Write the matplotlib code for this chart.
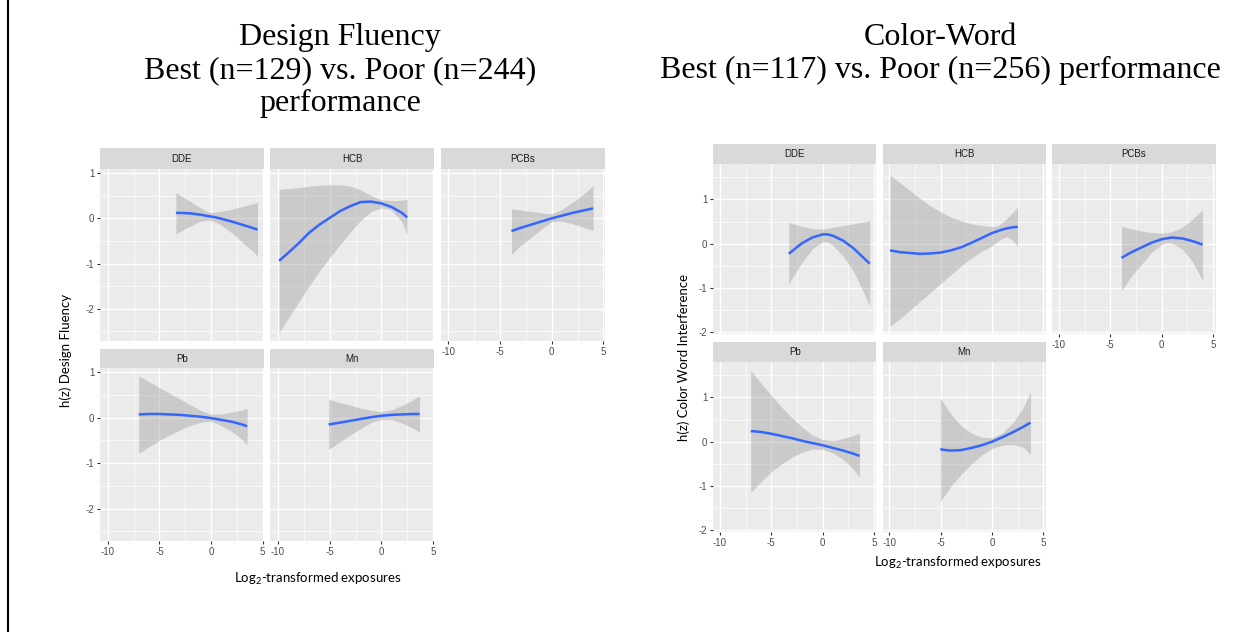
"""
Two BKMR-style facet panels: Design Fluency and Color-Word, best vs poor performance.
"""
import matplotlib
matplotlib.use("Agg")
import matplotlib.pyplot as plt
from matplotlib.ticker import MultipleLocator

W, H = 1244, 632

# ---------------- Design Fluency (left) ----------------
DF_DDE_X = [-3.4, -3, -2, -1, -0.3, 0, 0.5, 1, 2, 3, 4, 4.5]
DF_DDE_FIT = [0.12, 0.12, 0.11, 0.08, 0.05, 0.04, 0.02, -0.01, -0.07, -0.14, -0.21, -0.25]
DF_DDE_HI = [0.57, 0.51, 0.37, 0.23, 0.14, 0.13, 0.14, 0.16, 0.20, 0.26, 0.32, 0.35]
DF_DDE_LO = [-0.35, -0.29, -0.17, -0.06, -0.04, -0.05, -0.09, -0.15, -0.32, -0.52, -0.72, -0.83]

DF_HCB_X = [-9.9, -9, -8, -7, -6, -5, -4, -3, -2, -1, 0, 1, 2, 2.5]
DF_HCB_FIT = [-0.94, -0.76, -0.55, -0.32, -0.14, 0.01, 0.16, 0.27, 0.36, 0.37, 0.33, 0.25, 0.12, 0.02]
DF_HCB_HI = [0.64, 0.66, 0.68, 0.71, 0.73, 0.74, 0.74, 0.71, 0.63, 0.50, 0.41, 0.39, 0.40, 0.42]
DF_HCB_LO = [-2.52, -2.20, -1.85, -1.50, -1.17, -0.87, -0.58, -0.30, -0.05, 0.15, 0.23, 0.19, -0.08, -0.37]

DF_PCB_X = [-3.9, -3, -2, -1, 0, 1, 2, 3, 4]
DF_PCB_FIT = [-0.28, -0.21, -0.14, -0.07, 0.0, 0.06, 0.12, 0.17, 0.22]
DF_PCB_HI = [0.21, 0.18, 0.15, 0.12, 0.10, 0.20, 0.35, 0.52, 0.72]
DF_PCB_LO = [-0.79, -0.60, -0.42, -0.24, -0.07, -0.06, -0.12, -0.19, -0.27]

DF_PB_X = [-7, -6, -5, -4, -3, -2, -1, 0, 1, 2, 3, 3.5]
DF_PB_FIT = [0.07, 0.08, 0.08, 0.07, 0.06, 0.04, 0.02, -0.01, -0.05, -0.09, -0.15, -0.19]
DF_PB_HI = [0.92, 0.79, 0.66, 0.53, 0.41, 0.28, 0.16, 0.07, 0.08, 0.12, 0.17, 0.20]
DF_PB_LO = [-0.79, -0.64, -0.50, -0.38, -0.27, -0.17, -0.10, -0.08, -0.18, -0.30, -0.48, -0.60]

DF_MN_X = [-5.1, -4, -3, -2, -1, 0, 1, 2, 3, 3.7]
DF_MN_FIT = [-0.15, -0.11, -0.07, -0.03, 0.01, 0.04, 0.06, 0.07, 0.08, 0.08]
DF_MN_HI = [0.40, 0.33, 0.27, 0.21, 0.16, 0.13, 0.17, 0.27, 0.38, 0.48]
DF_MN_LO = [-0.70, -0.53, -0.38, -0.24, -0.11, -0.04, -0.04, -0.12, -0.22, -0.32]

# ---------------- Color-Word (right) ----------------
CW_DDE_X = [-3.3, -2.5, -2, -1, 0, 0.5, 1, 2, 3, 4, 4.6]
CW_DDE_FIT = [-0.23, -0.08, 0.01, 0.14, 0.21, 0.21, 0.18, 0.07, -0.10, -0.32, -0.45]
CW_DDE_HI = [0.48, 0.42, 0.39, 0.34, 0.33, 0.35, 0.37, 0.41, 0.45, 0.49, 0.52]
CW_DDE_LO = [-0.91, -0.60, -0.42, -0.12, 0.04, 0.04, -0.04, -0.28, -0.62, -1.10, -1.41]

CW_HCB_X = [-9.95, -9, -8, -7, -6, -5, -4, -3, -2, -1, 0, 0.5, 1, 1.5, 2, 2.5]
CW_HCB_FIT = [-0.15, -0.19, -0.21, -0.23, -0.22, -0.20, -0.15, -0.08, 0.02, 0.13, 0.24, 0.28, 0.32, 0.35, 0.37, 0.38]
CW_HCB_HI = [1.55, 1.38, 1.20, 1.02, 0.85, 0.72, 0.60, 0.51, 0.45, 0.41, 0.39, 0.40, 0.47, 0.58, 0.70, 0.83]
CW_HCB_LO = [-1.86, -1.70, -1.50, -1.30, -1.10, -0.90, -0.70, -0.50, -0.32, -0.17, -0.05, 0.04, 0.12, 0.16, 0.08, -0.06]

CW_PCB_X = [-3.9, -3, -2, -1, 0, 0.5, 1, 2, 3, 4]
CW_PCB_FIT = [-0.32, -0.20, -0.09, 0.02, 0.10, 0.12, 0.14, 0.12, 0.06, -0.02]
CW_PCB_HI = [0.39, 0.34, 0.29, 0.25, 0.24, 0.25, 0.27, 0.37, 0.55, 0.77]
CW_PCB_LO = [-1.07, -0.75, -0.48, -0.20, -0.02, 0.03, 0.01, -0.12, -0.40, -0.83]

CW_PB_X = [-7, -6, -5, -4, -3, -2, -1, 0, 1, 2, 3, 3.6]
CW_PB_FIT = [0.24, 0.22, 0.18, 0.13, 0.08, 0.02, -0.03, -0.08, -0.14, -0.20, -0.27, -0.32]
CW_PB_HI = [1.61, 1.32, 1.05, 0.78, 0.55, 0.33, 0.15, 0.05, 0.02, 0.07, 0.14, 0.19]
CW_PB_LO = [-1.15, -0.90, -0.68, -0.50, -0.35, -0.24, -0.17, -0.17, -0.25, -0.40, -0.62, -0.81]

CW_MN_X = [-5.05, -4.5, -4, -3, -2, -1, 0, 1, 2, 3, 3.75]
CW_MN_FIT = [-0.17, -0.19, -0.20, -0.19, -0.14, -0.08, 0.0, 0.10, 0.21, 0.33, 0.43]
CW_MN_HI = [0.99, 0.79, 0.62, 0.36, 0.19, 0.10, 0.09, 0.20, 0.42, 0.75, 1.13]
CW_MN_LO = [-1.35, -1.17, -1.00, -0.74, -0.50, -0.30, -0.15, -0.08, -0.06, -0.12, -0.29]

X_TICKS = [-10, -5, 0, 5]
Y_TICKS = [-2, -1, 0, 1]

TICK_FONT = "Liberation Sans"
LABEL_FONT = "Lato"
TITLE_FONT = "Liberation Serif"

plt.rcParams["mathtext.fontset"] = "custom"
plt.rcParams["mathtext.rm"] = LABEL_FONT
plt.rcParams["axes.unicode_minus"] = False


def px_axes(fig, left, top, width, height):
    return fig.add_axes([left / W, 1 - (top + height) / H, width / W, height / H])


def facet(fig, left, top, width, strip_h, panel_h, name, x, fit, lo, hi,
          xlim, ylim, show_x, show_y):
    sax = px_axes(fig, left, top, width, strip_h)
    sax.set_facecolor("#D9D9D9")
    sax.set_xticks([])
    sax.set_yticks([])
    for s in sax.spines.values():
        s.set_visible(False)
    sax.text(0.5, 0.5, name, ha="center", va="center", fontsize=7,
             family=TICK_FONT, color="#1A1A1A", transform=sax.transAxes)

    ax = px_axes(fig, left, top + strip_h, width, panel_h)
    ax.set_facecolor("#EBEBEB")
    for s in ax.spines.values():
        s.set_visible(False)
    ax.set_xlim(*xlim)
    ax.set_ylim(*ylim)
    ax.xaxis.set_major_locator(MultipleLocator(5))
    ax.xaxis.set_minor_locator(MultipleLocator(2.5))
    ax.yaxis.set_major_locator(MultipleLocator(1))
    ax.yaxis.set_minor_locator(MultipleLocator(0.5))
    ax.set_axisbelow(True)
    ax.grid(which="major", color="white", linewidth=1.0)
    ax.grid(which="minor", color="white", linewidth=0.5)
    ax.tick_params(which="minor", length=0)
    ax.tick_params(which="major", length=2.5, width=0.8, color="#333333",
                   labelsize=7, labelcolor="#4D4D4D", pad=1.5)
    ax.set_xticks(X_TICKS)
    ax.set_yticks(Y_TICKS)
    for lab in ax.get_xticklabels() + ax.get_yticklabels():
        lab.set_family(TICK_FONT)
    if not show_x:
        ax.tick_params(axis="x", which="major", length=0, labelbottom=False)
    if not show_y:
        ax.tick_params(axis="y", which="major", length=0, labelleft=False)

    ax.fill_between(x, lo, hi, color="#999999", alpha=0.4, linewidth=0, zorder=2)
    ax.plot(x, fit, color="#3366FF", linewidth=1.8, zorder=3,
            solid_capstyle="butt", solid_joinstyle="round")
    return ax


fig = plt.figure(figsize=(W / 100, H / 100), dpi=100)
fig.patch.set_facecolor("white")

# border line on the left
fig.add_artist(plt.Line2D([7.8 / W, 7.8 / W], [0, 1], color="black", linewidth=1.5,
                          transform=fig.transFigure))

# ---- left chart
df_xlim = (-10.75, 5.13)
df_ylim = (-2.71, 1.09)
df_cols = [100, 270.3, 440.7]
df_w = 164
facet(fig, df_cols[0], 148, df_w, 21, 172, "DDE", DF_DDE_X, DF_DDE_FIT, DF_DDE_LO, DF_DDE_HI,
      df_xlim, df_ylim, False, True)
facet(fig, df_cols[1], 148, df_w, 21, 172, "HCB", DF_HCB_X, DF_HCB_FIT, DF_HCB_LO, DF_HCB_HI,
      df_xlim, df_ylim, False, False)
facet(fig, df_cols[2], 148, df_w, 21, 172, "PCBs", DF_PCB_X, DF_PCB_FIT, DF_PCB_LO, DF_PCB_HI,
      df_xlim, df_ylim, True, False)
facet(fig, df_cols[0], 349, df_w, 19, 173, "Pb", DF_PB_X, DF_PB_FIT, DF_PB_LO, DF_PB_HI,
      df_xlim, df_ylim, True, True)
facet(fig, df_cols[1], 349, df_w, 19, 173, "Mn", DF_MN_X, DF_MN_FIT, DF_MN_LO, DF_MN_HI,
      df_xlim, df_ylim, True, False)

# ---- right chart
cw_xlim = (-10.68, 5.26)
cw_ylim = (-2.04, 1.80)
cw_cols = [713, 882.5, 1052]
cw_w = 163.5
facet(fig, cw_cols[0], 144, cw_w, 20, 170, "DDE", CW_DDE_X, CW_DDE_FIT, CW_DDE_LO, CW_DDE_HI,
      cw_xlim, cw_ylim, False, True)
facet(fig, cw_cols[1], 144, cw_w, 20, 170, "HCB", CW_HCB_X, CW_HCB_FIT, CW_HCB_LO, CW_HCB_HI,
      cw_xlim, cw_ylim, False, False)
facet(fig, cw_cols[2], 144, cw_w, 20, 170, "PCBs", CW_PCB_X, CW_PCB_FIT, CW_PCB_LO, CW_PCB_HI,
      cw_xlim, cw_ylim, True, False)
facet(fig, cw_cols[0], 342, cw_w, 20, 170, "Pb", CW_PB_X, CW_PB_FIT, CW_PB_LO, CW_PB_HI,
      cw_xlim, cw_ylim, True, True)
facet(fig, cw_cols[1], 342, cw_w, 20, 170, "Mn", CW_MN_X, CW_MN_FIT, CW_MN_LO, CW_MN_HI,
      cw_xlim, cw_ylim, True, False)


# ---- titles
def ftext(x, y, s, **kw):
    fig.text(x / W, 1 - y / H, s, **kw)


title_kw = dict(ha="center", va="baseline", fontsize=23, family=TITLE_FONT, color="black")
ftext(340, 45, "Design Fluency", **title_kw)
ftext(340, 78, "Best (n=129) vs. Poor (n=244)", **title_kw)
ftext(340, 111, "performance", **title_kw)
ftext(940, 45, "Color-Word", **title_kw)
ftext(940, 78, "Best (n=117) vs. Poor (n=256) performance", **title_kw)

# ---- axis labels
lab_kw = dict(fontsize=9.5, family=LABEL_FONT, color="black")
ftext(66, 350, "h(z) Design Fluency", rotation=90, ha="center", va="center", **lab_kw)
ftext(684, 357, "h(z) Color Word Interference", rotation=90, ha="center", va="center", **lab_kw)
ftext(318, 579, "Log$_2$-transformed exposures", ha="center", va="center", **lab_kw)
ftext(958, 563, "Log$_2$-transformed exposures", ha="center", va="center", **lab_kw)

fig.savefig("out.png", dpi=100, facecolor="white")
